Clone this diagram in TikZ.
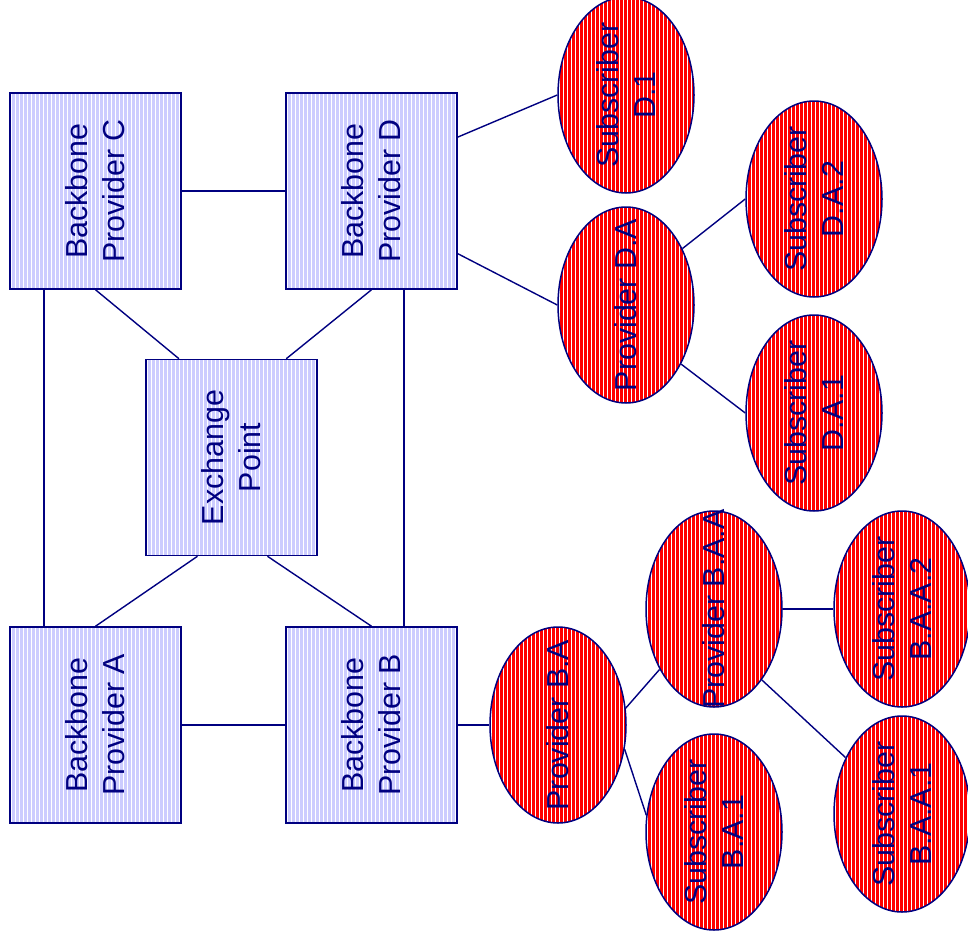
\documentclass[tikz,border=0pt]{standalone}
\usepackage{fontspec}
\setmainfont{Liberation Sans}
\usetikzlibrary{shapes.geometric}
\definecolor{navyline}{RGB}{0,0,128}
\definecolor{lavender}{RGB}{204,204,255}
\definecolor{redfill}{RGB}{255,0,0}
\tikzset{
  stripes/.style={path picture={
    \foreach \i in {1,5,...,240}
      \fill[white]
        ([xshift=\i bp]path picture bounding box.south west) rectangle
        ([xshift=\i bp+1bp]path picture bounding box.north west);}},
  backbone/.style={draw=navyline, line width=1.5bp, fill=lavender, stripes,
    rectangle, inner sep=0pt, minimum width=171bp, minimum height=196bp},
  isp/.style={draw=navyline, line width=1.5bp, fill=redfill, stripes,
    ellipse, inner sep=0pt, minimum width=136bp, minimum height=196bp},
  caption/.style={rotate=90, align=center, text=navyline,
    font=\fontsize{30.5}{37}\selectfont},
  link/.style={draw=navyline, line width=1.4bp},
}
\begin{document}
\begin{tikzpicture}[x=1bp,y=-1bp]
\useasboundingbox (0,0) rectangle (968,942);

% backbone providers and the exchange point
\node[backbone] (C)  at (95.5,191) {};
\node[backbone] (D)  at (371.5,191) {};
\node[backbone] (EP) at (231.5,457.5) {};
\node[backbone] (A)  at (95.5,725) {};
\node[backbone] (B)  at (371.5,725) {};

% regional providers and subscribers
\node[isp] (SD1)   at (626,95)  {};
\node[isp] (PDA)   at (626,305) {};
\node[isp] (SDA2)  at (814,199) {};
\node[isp] (SDA1)  at (814,413) {};
\node[isp] (PBA)   at (558,725) {};
\node[isp] (PBAA)  at (714,609) {};
\node[isp] (SBAA2) at (902,609) {};
\node[isp] (SBA1)  at (714,832) {};
\node[isp] (SBAA1) at (902,814) {};

% captions
\node[caption] (tC)  at (C)  {Backbone\\Provider C};
\node[caption] (tD)  at (D)  {Backbone\\Provider D};
\node[caption] (tEP) at (EP) {Exchange\\Point};
\node[caption] (tA)  at (A)  {Backbone\\Provider A};
\node[caption] (tB)  at (B)  {Backbone\\Provider B};
\node[caption] (tSD1)   at (SD1)   {Subscriber\\D.1};
\node[caption] (tPDA)   at (PDA)   {Provider D.A};
\node[caption] (tSDA2)  at (SDA2)  {Subscriber\\D.A.2};
\node[caption] (tSDA1)  at (SDA1)  {Subscriber\\D.A.1};
\node[caption] (tPBA)   at (PBA)   {Provider B.A};
\node[caption] (tPBAA)  at (PBAA)  {Provider B.A.A};
\node[caption] (tSBAA2) at (SBAA2) {Subscriber\\B.A.A.2};
\node[caption] (tSBA1)  at (SBA1)  {Subscriber\\B.A.1};
\node[caption] (tSBAA1) at (SBAA1) {Subscriber\\B.A.A.1};

% backbone mesh
\draw[link] (C) -- (D);
\draw[link] (A) -- (B);
\draw[link] ([xshift=-51.5bp]C.south) -- ([xshift=-51.5bp]A.north);
\draw[link] ([xshift=32.5bp]D.south) -- ([xshift=32.5bp]B.north);
\draw[link] (C.south) -- (EP.118.5);
\draw[link] (D.south) -- (EP.61.9);
\draw[link] (A.north) -- (EP.-109.2);
\draw[link] (B.north) -- (EP.-70.8);

% provider D side
\draw[link] (D.32) -- (SD1.180);
\draw[link] (D.-36.2) -- (PDA.180);
\draw[link] (PDA.45) -- (SDA2.180);
\draw[link] (PDA.-47) -- (SDA1.180);

% provider B side
\draw[link] (B) -- (PBA);
\draw[link] (PBA.14) -- (PBAA.-132);
\draw[link] (PBA.-20) -- (SBA1.166);
\draw[link] (PBAA) -- (SBAA2);
\draw[link] (PBAA.-56.5) -- (SBAA1.135.5);
\end{tikzpicture}
\end{document}
